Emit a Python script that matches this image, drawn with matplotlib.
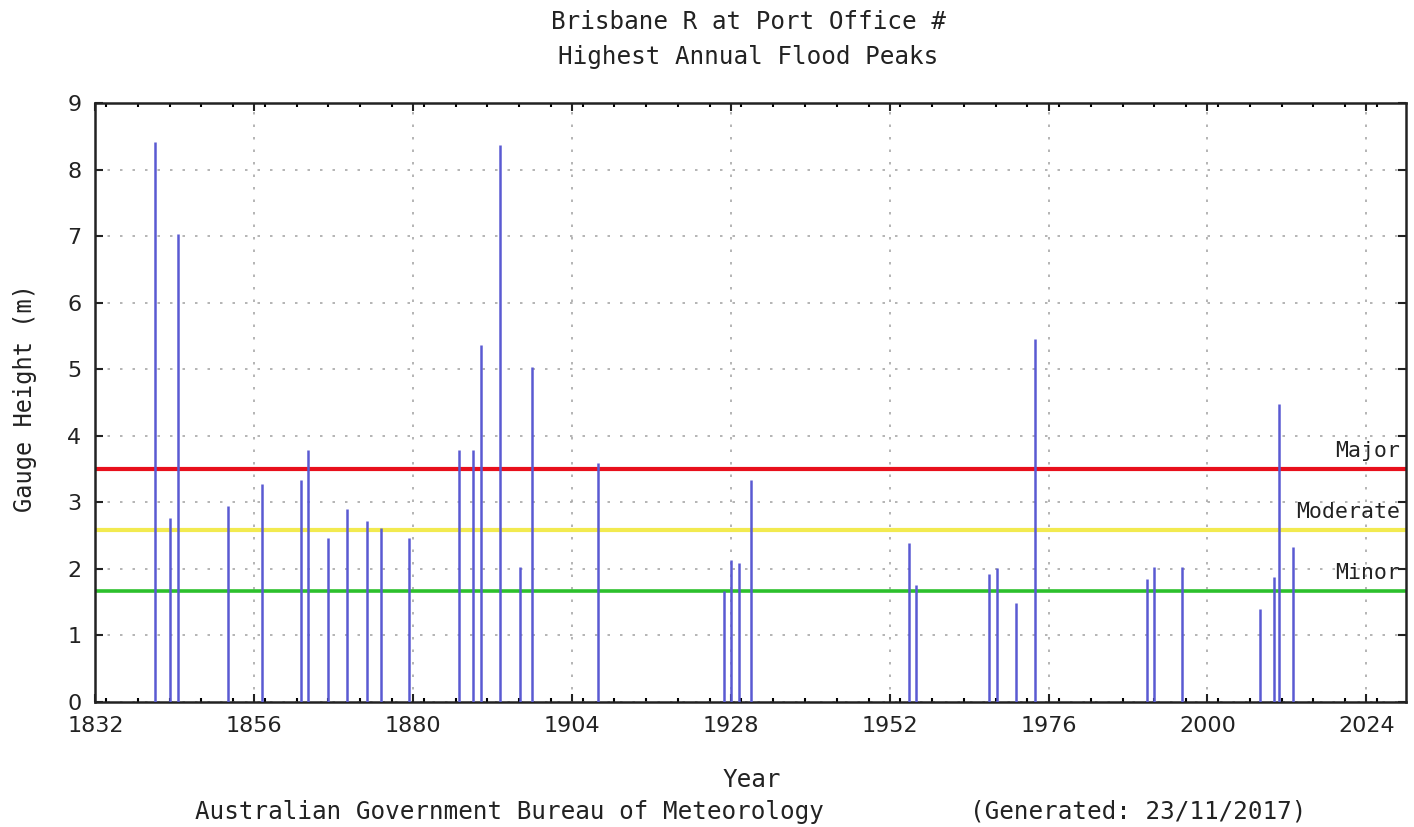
import numpy as np
import matplotlib
matplotlib.use('Agg')
import matplotlib.pyplot as plt
from matplotlib.ticker import MultipleLocator

# Highest annual flood peaks (year position, gauge height in m)
anos = [1841.0, 1843.2, 1844.4, 1852.0, 1857.2, 1863.0, 1864.1, 1867.1, 1870.0,
        1873.0, 1875.2, 1879.3, 1886.9, 1889.1, 1890.2, 1893.1, 1896.1, 1898.0,
        1908.0, 1927.0, 1928.1, 1929.2, 1931.1, 1954.9, 1956.0, 1967.0, 1968.2,
        1971.1, 1974.0, 1990.9, 1992.0, 1996.1, 2007.9, 2010.0, 2010.8, 2013.0]
alturas = [8.42, 2.76, 7.04, 2.94, 3.27, 3.34, 3.78, 2.46, 2.90,
           2.72, 2.61, 2.46, 3.78, 3.78, 5.36, 8.37, 2.02, 5.03,
           3.59, 1.67, 2.13, 2.09, 3.33, 2.39, 1.76, 1.92, 2.01,
           1.48, 5.46, 1.84, 2.02, 2.02, 1.39, 1.87, 4.48, 2.32]

# Flood classification levels
niveis_nome = ['Major', 'Moderate', 'Minor']
niveis_valor = [3.5, 2.58, 1.67]
niveis_cor = ['#e8101c', '#f2ea50', '#2cc02c']

xticks = [1832, 1856, 1880, 1904, 1928, 1952, 1976, 2000, 2024]

mono = 'DejaVu Sans Mono'
tam = 17.5

fig = plt.figure(figsize=(14.14, 8.27), dpi=100)
ax = fig.add_axes([0.0675, 0.1515, 0.9268, 0.7236])

for nome, val, cor in zip(niveis_nome, niveis_valor, niveis_cor):
    lw = 3.0 if nome != 'Minor' else 2.6
    ax.axhline(val, color=cor, lw=lw, zorder=2)
    ax.text(0.9954, val + 0.27, nome, transform=ax.get_yaxis_transform(),
            ha='right', va='center', fontsize=15.5, family=mono, color='#222222')

ax.vlines(anos, 0, alturas, color='#5a5ad2', lw=1.8, zorder=3)

ax.set_xlim(1832, 2030)
ax.set_ylim(0, 9)
ax.set_xticks(xticks)
ax.xaxis.set_minor_locator(MultipleLocator(4.8))
ax.yaxis.set_major_locator(MultipleLocator(1))
ax.tick_params(which='both', direction='in', top=True, right=True, width=1.5)
ax.tick_params(which='major', length=6, labelsize=16, colors='#222222', pad=10)
ax.tick_params(which='minor', length=3)
ax.grid(True, which='major', color='#a8a8a8', lw=1.2, linestyle=(0, (1.5, 6)))
ax.set_axisbelow(True)
for s in ax.spines.values():
    s.set_linewidth(1.8)
    s.set_color('#222222')

fig.text(0.529, 1 - 22 / 827, 'Brisbane R at Port Office #', ha='center', va='center',
         fontsize=tam, family=mono, color='#222222')
fig.text(0.529, 1 - 57 / 827, 'Highest Annual Flood Peaks', ha='center', va='center',
         fontsize=tam, family=mono, color='#222222')
fig.text(752 / 1414, 1 - 780 / 827, 'Year', ha='center', va='center',
         fontsize=tam, family=mono, color='#222222')
fig.text(25 / 1414, 1 - 398 / 827, 'Gauge Height (m)', ha='center', va='center',
         rotation=90, fontsize=17, family=mono, color='#222222')
fig.text(195 / 1414, 1 - 812 / 827, 'Australian Government Bureau of Meteorology',
         ha='left', va='center', fontsize=tam, family=mono, color='#222222')
fig.text(970 / 1414, 1 - 812 / 827, '(Generated: 23/11/2017)',
         ha='left', va='center', fontsize=tam, family=mono, color='#222222')

fig.savefig('out.png', dpi=100)
